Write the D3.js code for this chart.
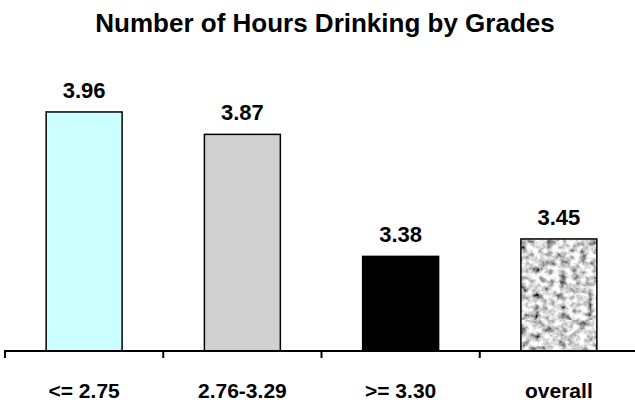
<!DOCTYPE html>
<html>
<head>
<meta charset="utf-8">
<script src="https://cdn.jsdelivr.net/npm/d3@7"></script>
<style>
  body { margin: 0; background: #fff; }
  text { font-family: "Liberation Sans", Arial, sans-serif; font-weight: bold; fill: #000; }
</style>
</head>
<body>
<svg id="chart" width="635" height="404"></svg>
<script>
var categories = ["<= 2.75", "2.76-3.29", ">= 3.30", "overall"];
var hours = [3.96, 3.87, 3.38, 3.45];
var fills = ["#ccffff", "#d0d0d0", "#000000", "url(#granite)"];

var svg = d3.select("#chart");

// granite texture for the "overall" bar
var defs = svg.append("defs");
var filt = defs.append("filter").attr("id", "noise")
    .attr("x", 0).attr("y", 0).attr("width", "100%").attr("height", "100%");
filt.append("feTurbulence")
    .attr("type", "fractalNoise")
    .attr("baseFrequency", 0.15)
    .attr("numOctaves", 3)
    .attr("seed", 11);
filt.append("feColorMatrix")
    .attr("type", "matrix")
    .attr("values", "1.9 0 0 0 -0.28  1.9 0 0 0 -0.28  1.9 0 0 0 -0.28  0 0 0 0 1");
var pat = defs.append("pattern").attr("id", "granite")
    .attr("patternUnits", "userSpaceOnUse")
    .attr("width", 160).attr("height", 160);
pat.append("rect").attr("width", 160).attr("height", 160).attr("filter", "url(#noise)");

var x = d3.scaleBand().domain(categories).range([5, 638]).paddingInner(0.52).paddingOuter(0.26);
var y = d3.scaleLinear().domain([3, 4]).range([351, 102]);

svg.append("text")
    .attr("x", 325).attr("y", 32)
    .attr("text-anchor", "middle")
    .style("font-size", "26px")
    .text("Number of Hours Drinking by Grades");

svg.selectAll("rect.bar")
    .data(hours)
    .enter().append("rect")
    .attr("class", "bar")
    .attr("x", function(d, i) { return x(categories[i]); })
    .attr("y", function(d) { return y(d); })
    .attr("width", x.bandwidth())
    .attr("height", function(d) { return y(3) - y(d); })
    .attr("fill", function(d, i) { return fills[i]; })
    .attr("stroke", "#000")
    .attr("stroke-width", 1.5);

svg.selectAll("text.val")
    .data(hours)
    .enter().append("text")
    .attr("class", "val")
    .attr("x", function(d, i) { return x(categories[i]) + x.bandwidth() / 2; })
    .attr("y", function(d) { return y(d) - 14; })
    .attr("text-anchor", "middle")
    .style("font-size", "22px")
    .text(function(d) { return d.toFixed(2); });

// category axis with ticks between groups
var step = x.step();
var ticks = d3.range(categories.length + 1).map(function(i) { return 5 + i * step; });
svg.append("line")
    .attr("x1", 5).attr("x2", 635)
    .attr("y1", 351).attr("y2", 351)
    .attr("stroke", "#000").attr("stroke-width", 2);
svg.selectAll("line.tick")
    .data(ticks)
    .enter().append("line")
    .attr("class", "tick")
    .attr("x1", function(d) { return d; }).attr("x2", function(d) { return d; })
    .attr("y1", 350).attr("y2", 358)
    .attr("stroke", "#000").attr("stroke-width", 2);

svg.selectAll("text.cat")
    .data(categories)
    .enter().append("text")
    .attr("class", "cat")
    .attr("x", function(d) { return x(d) + x.bandwidth() / 2; })
    .attr("y", 398)
    .attr("text-anchor", "middle")
    .style("font-size", "21px")
    .text(function(d) { return d; });
</script>
</body>
</html>
